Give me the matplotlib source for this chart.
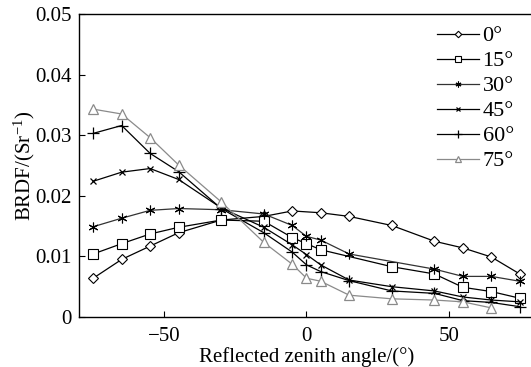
import matplotlib
matplotlib.use("Agg")
import matplotlib.pyplot as plt
from matplotlib.ticker import FuncFormatter

plt.rcParams['font.family'] = ['Liberation Serif', 'DejaVu Serif']
plt.rcParams['mathtext.fontset'] = 'custom'
plt.rcParams['mathtext.rm'] = 'Liberation Serif'
plt.rcParams['mathtext.it'] = 'Liberation Serif:italic'

# reflected zenith angle sample positions (deg) and BRDF for each incident angle
x_0 = [-75, -65, -55, -45, -30, -15, -5, 5, 15, 30, 45, 55, 65, 75]
brdf_0 = [0.0064, 0.0095, 0.0117, 0.0139, 0.0160, 0.0166, 0.0175, 0.0172,
          0.0166, 0.0151, 0.0125, 0.0114, 0.0099, 0.0071]

x_15 = [-75, -65, -55, -45, -30, -15, -5, 0, 5, 30, 45, 55, 65, 75]
brdf_15 = [0.0104, 0.0121, 0.0137, 0.0148, 0.0160, 0.0158, 0.0131, 0.0121,
           0.0111, 0.0083, 0.0071, 0.0049, 0.0042, 0.0031]

x_30 = [-75, -65, -55, -45, -30, -15, -5, 0, 5, 15, 45, 55, 65, 75]
brdf_30 = [0.0149, 0.0163, 0.0176, 0.0179, 0.0177, 0.0170, 0.0151, 0.0133,
           0.0127, 0.0104, 0.0079, 0.0067, 0.0067, 0.0059]

x_45 = [-75, -65, -55, -45, -30, -15, -5, 0, 5, 15, 30, 45, 55, 65, 75]
brdf_45 = [0.0224, 0.0239, 0.0245, 0.0227, 0.0180, 0.0148, 0.0119, 0.0103,
           0.0086, 0.0061, 0.0050, 0.0043, 0.0033, 0.0028, 0.0025]

x_60 = [-75, -65, -55, -45, -30, -15, -5, 0, 5, 15, 30, 45, 55, 65, 75]
brdf_60 = [0.0303, 0.0316, 0.0270, 0.0240, 0.0179, 0.0139, 0.0107, 0.0086,
           0.0075, 0.0060, 0.0043, 0.0039, 0.0027, 0.0024, 0.0017]

x_75 = [-75, -65, -55, -45, -30, -15, -5, 0, 5, 15, 30, 45, 55, 65]
brdf_75 = [0.0343, 0.0335, 0.0296, 0.0251, 0.0190, 0.0123, 0.0087, 0.0064,
           0.0059, 0.0036, 0.0030, 0.0028, 0.0025, 0.0015]

labels = ['0°', '15°', '30°', '45°', '60°', '75°']

fig = plt.figure(figsize=(5.31, 3.67), dpi=100)
ax = fig.add_axes([79 / 531, 1 - 317 / 367, 455 / 531, 303 / 367])

star = (6, 2, 0)
ax.plot(x_0, brdf_0, color='black', lw=0.9, marker='D', ms=5.5, mfc='white', mec='black', mew=0.8, label=labels[0])
ax.plot(x_15, brdf_15, color='black', lw=0.9, marker='s', ms=7, mfc='white', mec='black', mew=0.8, label=labels[1])
ax.plot(x_30, brdf_30, color='#333333', lw=0.9, marker=star, ms=7, mec='black', mew=0.8, label=labels[2])
ax.plot(x_45, brdf_45, color='black', lw=0.9, marker='x', ms=5, mec='black', mew=0.9, label=labels[3])
ax.plot(x_60, brdf_60, color='black', lw=0.9, marker='+', ms=9, mec='black', mew=0.9, label=labels[4])
ax.plot(x_75, brdf_75, color='#8a8a8a', lw=0.9, marker='^', ms=7, mfc='white', mec='#8a8a8a', mew=0.9, label=labels[5])

ax.set_xlim(-80, 80)
ax.set_ylim(0, 0.05)
ax.set_xticks([-50, 0, 50])
ax.set_yticks([0, 0.01, 0.02, 0.03, 0.04, 0.05])
ax.yaxis.set_major_formatter(FuncFormatter(lambda v, p: '0' if v == 0 else '%.2f' % v))
ax.tick_params(direction='in', length=4, width=0.8, labelsize=15)
ax.tick_params(axis='x', pad=7)
ax.tick_params(axis='y', pad=5)
for s in ax.spines.values():
    s.set_linewidth(1.0)

ax.set_xlabel('Reflected zenith angle/(°)', fontsize=15, labelpad=1)
ax.set_ylabel('BRDF/(Sr$^{-1}$)', fontsize=15, labelpad=-1)

leg = ax.legend(loc='upper right', bbox_to_anchor=(0.985, 1.005), frameon=False, fontsize=16,
                handlelength=1.9, handletextpad=0.15, labelspacing=0.2, markerscale=0.6,
                borderaxespad=0.2)

fig.savefig('out.png', dpi=100)
